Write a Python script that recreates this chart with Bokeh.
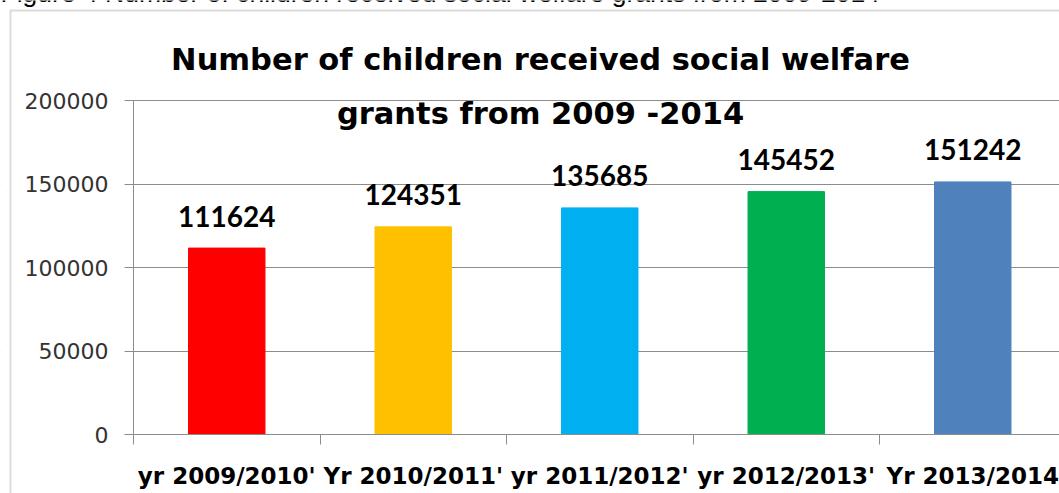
from bokeh.plotting import figure
from bokeh.models import (Range1d, FixedTicker, BasicTickFormatter, Label, LabelSet,
                          ColumnDataSource, PolyAnnotation, BoxAnnotation)
from bokeh.embed import file_html
from bokeh.resources import INLINE
from bokeh.core.properties import value

# ---- data ----
categories = ["yr 2009/2010'", "Yr 2010/2011'", "yr 2011/2012'", "yr 2012/2013'", "Yr 2013/2014"]
values = [111624, 124351, 135685, 145452, 151242]
colors = ["#FF0000", "#FFC000", "#00B0F0", "#00B050", "#4F81BD"]
y_ticks = [0, 50000, 100000, 150000, 200000]
title_lines = ["Number of children received social welfare", "grants from 2009 -2014"]
caption = "Figure 4 Number of children received social welfare grants from 2009-2014"

# ---- layout constants (pixels) ----
W, H = 1059, 493
AX_X, AX_TOP, AX_Y = 133, 100, 434   # y-axis x, pixel of y max, pixel of y=0
CAT_W = 186.5
Y_MAX = 200000
GRID = "#8c8c8c"


def px_to_x(px):
    return (px - AX_X) / CAT_W


def py_to_y(py):
    return (AX_Y - py) * Y_MAX / (AX_Y - AX_TOP)


xs = [i + 0.5 for i in range(len(categories))]
src = ColumnDataSource(dict(x=xs, top=values, color=colors,
                            label=[str(v) for v in values]))

p = figure(width=W, height=H, output_backend="svg", toolbar_location=None,
           x_range=Range1d(px_to_x(0), px_to_x(W)),
           y_range=Range1d(py_to_y(H), py_to_y(0)),
           min_border=0)
p.background_fill_color = "white"
p.border_fill_color = "white"
p.outline_line_color = None

# grid (masked left of the axis)
p.xgrid.grid_line_color = None
p.ygrid.ticker = FixedTicker(ticks=y_ticks)
p.ygrid.grid_line_color = GRID
p.add_layout(BoxAnnotation(left=px_to_x(-5), right=0, bottom=py_to_y(H + 5), top=py_to_y(-5),
                           fill_color="white", fill_alpha=1, line_color=None,
                           level="underlay"))

p.vbar(x="x", top="top", width=0.41, color="color", source=src)

# y axis
p.yaxis.fixed_location = 0
p.yaxis.bounds = (0, Y_MAX)
p.yaxis.ticker = FixedTicker(ticks=y_ticks)
p.yaxis.formatter = BasicTickFormatter(use_scientific=False)
p.yaxis.axis_line_color = GRID
p.yaxis.major_tick_line_color = GRID
p.yaxis.major_tick_out = 9
p.yaxis.major_tick_in = 0
p.yaxis.minor_tick_line_color = None
p.yaxis.major_label_text_font = "DejaVu Sans"
p.yaxis.major_label_text_font_size = "22px"
p.yaxis.major_label_text_color = "#333333"
p.yaxis.major_label_standoff = 16

# x axis
p.xaxis.fixed_location = 0
p.xaxis.bounds = (0, len(categories))
p.xaxis.ticker = FixedTicker(ticks=xs, minor_ticks=list(range(len(categories) + 1)))
overrides = {}
for xv, c in zip(xs, categories):
    overrides[xv] = c
    overrides[str(xv)] = c
p.xaxis.major_label_overrides = overrides
p.xaxis.axis_line_color = GRID
p.xaxis.major_tick_out = 0
p.xaxis.major_tick_in = 0
p.xaxis.major_tick_line_color = None
p.xaxis.minor_tick_out = 10
p.xaxis.minor_tick_in = 0
p.xaxis.minor_tick_line_color = GRID
p.xaxis.major_label_text_font = "DejaVu Sans"
p.xaxis.major_label_text_font_style = "bold"
p.xaxis.major_label_text_font_size = "23px"
p.xaxis.major_label_text_color = "black"
p.xaxis.major_label_standoff = 18

# data labels
p.add_layout(LabelSet(x="x", y="top", text="label", source=src, y_offset=21.5,
                      text_align="center", text_baseline="alphabetic",
                      text_font=value("Lato"), text_font_style="bold",
                      text_font_size=value("28px"), text_color="black"))

# title (two lines)
for line, by in zip(title_lines, [59, 113]):
    p.add_layout(Label(x=px_to_x(540), y=py_to_y(by), text=line,
                       text_align="center", text_baseline="alphabetic",
                       text_font="DejaVu Sans", text_font_style="bold",
                       text_font_size="30.5px", text_color="black"))

# cut-off caption at the very top
p.add_layout(Label(x=px_to_x(0), y=py_to_y(-7.5), text=caption,
                   text_align="left", text_baseline="alphabetic",
                   text_font="Liberation Sans", text_font_size="26.5px",
                   text_color="black"))

# chart frame border
p.add_layout(PolyAnnotation(xs=[px_to_x(10), px_to_x(10), px_to_x(3000), px_to_x(3000)],
                            ys=[py_to_y(3000), py_to_y(10), py_to_y(10), py_to_y(3000)],
                            fill_alpha=0, line_color=GRID, line_width=2))

open("out.html", "w").write(file_html(p, INLINE))
